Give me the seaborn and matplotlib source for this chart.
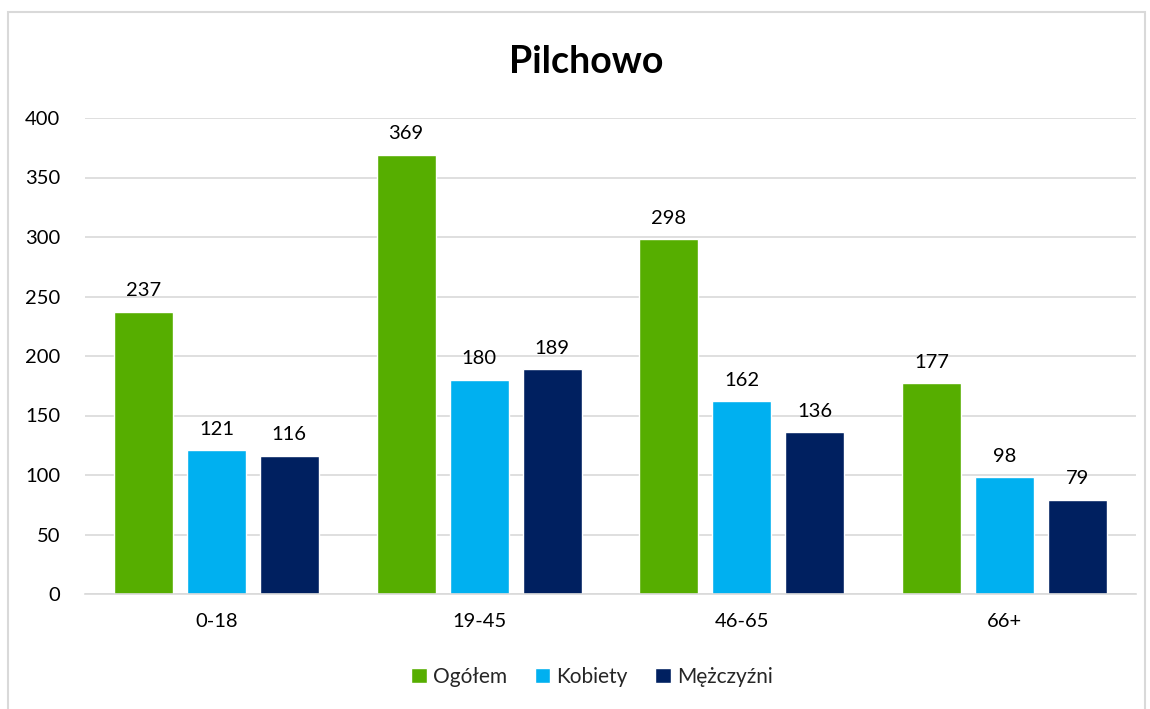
import pandas as pd
import numpy as np
import matplotlib.pyplot as plt
import seaborn as sbn
from matplotlib.patches import Rectangle

# data
groups = ["0-18", "19-45", "46-65", "66+"]
series = ["Ogółem", "Kobiety", "Mężczyźni"]
ogolem = [237, 369, 298, 177]
kobiety = [121, 180, 162, 98]
mezczyzni = [116, 189, 136, 79]
colors = ["#56AE00", "#00B0F0", "#002060"]

df = pd.DataFrame({
    "grupa": groups * 3,
    "seria": [s for s in series for _ in groups],
    "wartosc": ogolem + kobiety + mezczyzni,
})

sbn.set_style("white")
plt.rcParams["font.family"] = ["Lato", "DejaVu Sans"]

fig = plt.figure(figsize=(11.5, 7.09), dpi=100)
ax = fig.add_axes([85 / 1150, 1 - 594 / 709, 1051 / 1150, 476 / 709])

sbn.barplot(data=df, x="grupa", y="wartosc", hue="seria", order=groups,
            hue_order=series, palette=colors, width=0.833, gap=0.19,
            saturation=1, ax=ax, legend=True)

for cont in ax.containers:
    ax.bar_label(cont, padding=9, fontsize=14.5, color="#000000")

ax.set_ylim(0, 400)
ax.set_xlim(-0.5, 3.5)
ax.set_yticks(range(0, 401, 50))
ax.yaxis.grid(True, color="#D9D9D9", linewidth=1.2)
ax.set_axisbelow(True)
for side in ["top", "right", "left"]:
    ax.spines[side].set_visible(False)
ax.spines["bottom"].set_color("#D9D9D9")
ax.spines["bottom"].set_linewidth(1.2)
ax.tick_params(axis="both", length=0, labelsize=14.5, colors="#000000")
ax.tick_params(axis="x", pad=14)
ax.tick_params(axis="y", pad=18)
ax.set_xlabel("")
ax.set_ylabel("")

fig.text(586 / 1150, 1 - 62 / 709, "Pilchowo", ha="center", va="center",
         fontsize=27, fontweight="bold", color="#000000")

handles, labels = ax.get_legend_handles_labels()
ax.legend(handles, labels, loc="center",
          bbox_to_anchor=((592 - 85) / 1051, -(677 - 594) / 476),
          ncol=3, frameon=False, fontsize=15, handlelength=0.75, handleheight=0.75,
          handletextpad=0.3, columnspacing=1.3)

fig.patches.append(Rectangle((8 / 1150, -0.01), 1137 / 1150, 1 - 12 / 709 + 0.01,
                             transform=fig.transFigure, fill=False,
                             edgecolor="#D9D9D9", linewidth=1.5))

plt.savefig("out.png", dpi=100)
